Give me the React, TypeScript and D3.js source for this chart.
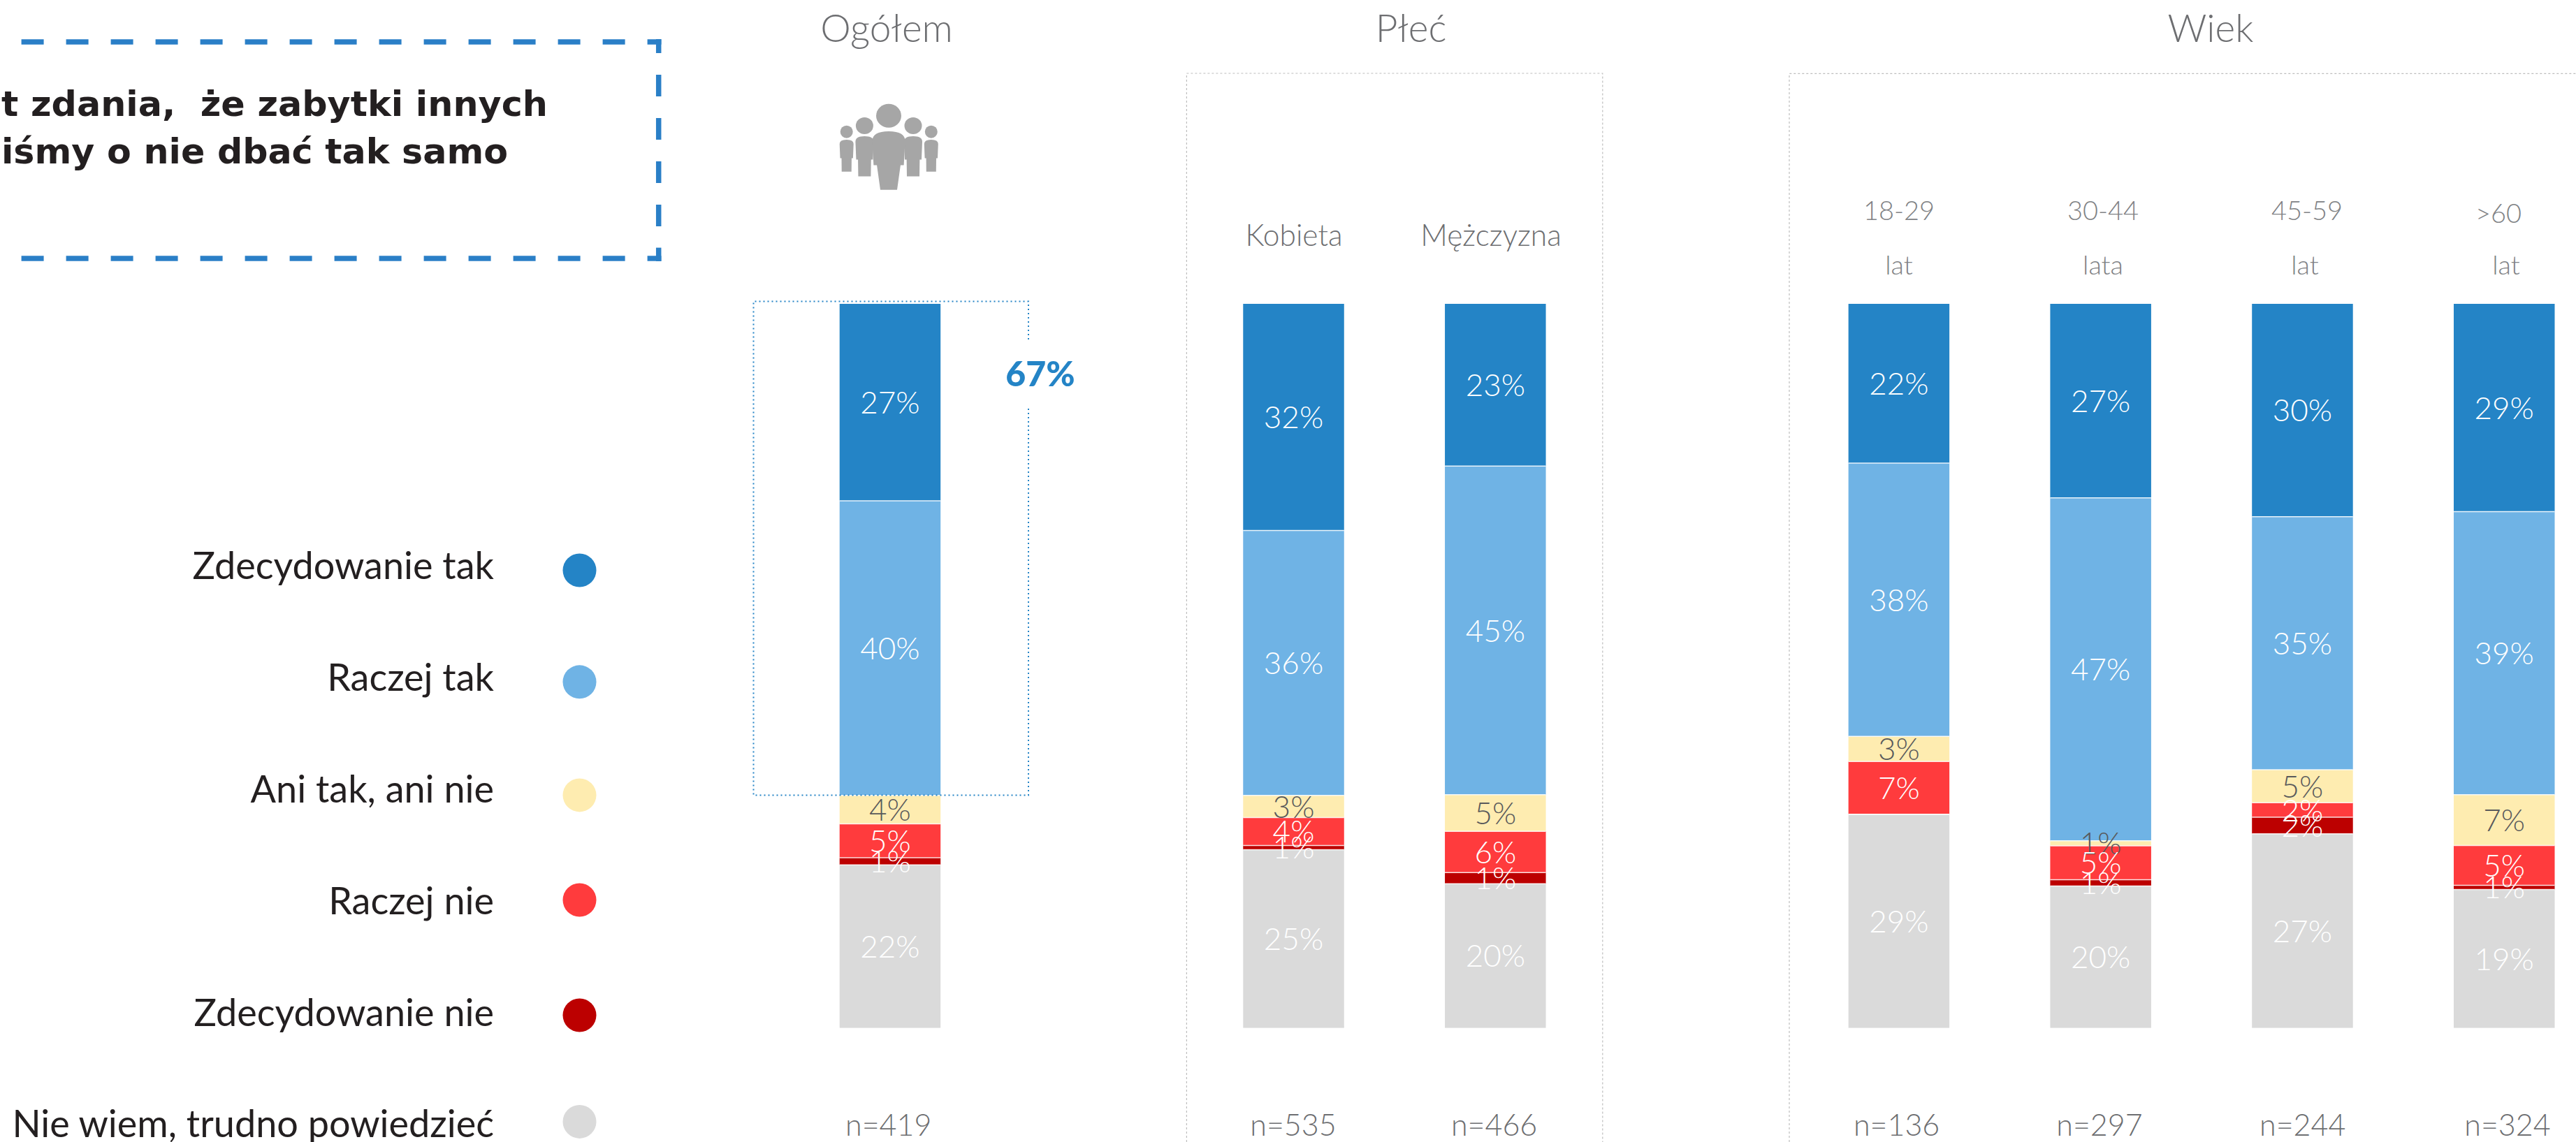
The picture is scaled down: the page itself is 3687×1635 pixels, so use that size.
import React from "react";
import * as d3 from "d3";

const answers = ["Zdecydowanie tak", "Raczej tak", "Ani tak, ani nie", "Raczej nie", "Zdecydowanie nie", "Nie wiem, trudno powiedzieć"];
const colors = ["#2484c6", "#6fb3e5", "#feecb0", "#ff3b3d", "#bc0000", "#dadada"];
const labelColors = ["#ffffff", "#ffffff", "#58595b", "#ffffff", "#ffffff", "#ffffff"];

const barNames = ["Ogółem", "Kobieta", "Mężczyzna", "18-29", "30-44", "45-59", ">60"];
const barSlots = [0, 2, 3, 5, 6, 7, 8];
const sampleSizes = ["n=419", "n=535", "n=466", "n=136", "n=297", "n=244", "n=324"];
const sampleCenters = [1271.7, 1851, 2138.6, 2714.6, 3005, 3295.7, 3589];

const zdecydowanieTak = [27.2, 31.3, 22.4, 22.0, 26.8, 29.4, 28.7];
const raczejTak = [40.7, 36.6, 45.4, 37.75, 47.35, 34.95, 39.1];
const aniTakAniNie = [3.93, 3.05, 5.05, 3.45, 0.7, 4.55, 7.0];
const raczejNie = [4.67, 3.85, 5.7, 7.3, 4.7, 2.0, 5.5];
const zdecydowanieNie = [1.0, 0.6, 1.55, 0, 0.85, 2.3, 0.6];
const nieWiem = [22.5, 24.6, 19.9, 29.5, 19.6, 26.8, 19.1];
const seriesValues = [zdecydowanieTak, raczejTak, aniTakAniNie, raczejNie, zdecydowanieNie, nieWiem];

const labelsTak = ["27%", "32%", "23%", "22%", "27%", "30%", "29%"];
const labelsRaczejTak = ["40%", "36%", "45%", "38%", "47%", "35%", "39%"];
const labelsAni = ["4%", "3%", "5%", "3%", "1%", "5%", "7%"];
const labelsRaczejNie = ["5%", "4%", "6%", "7%", "5%", "2%", "5%"];
const labelsNie = ["1%", "1%", "1%", "", "1%", "2%", "1%"];
const labelsNieWiem = ["22%", "25%", "20%", "29%", "20%", "27%", "19%"];
const seriesLabels = [labelsTak, labelsRaczejTak, labelsAni, labelsRaczejNie, labelsNie, labelsNieWiem];

const legendBaselines = [828.5, 989, 1148.7, 1308.5, 1469.4, 1628];
const legendDots = [816.5, 976.3, 1138.4, 1288.5, 1453.5, 1605.9];

const headers = [{ t: "Ogółem", x: 1269 }, { t: "Płeć", x: 2019.6 }, { t: "Wiek", x: 3164 }];
const genderLabels = [{ t: "Kobieta", x: 1852 }, { t: "Mężczyzna", x: 2134 }];
const ageLabels = [
  { t: "18-29", x: 2718, y: 315 }, { t: "30-44", x: 3010, y: 315 }, { t: "45-59", x: 3302, y: 315 }, { t: ">60", x: 3576, y: 319 },
  { t: "lat", x: 2718, y: 393 }, { t: "lata", x: 3010, y: 393 }, { t: "lat", x: 3299, y: 393 }, { t: "lat", x: 3587, y: 393 },
];

const FONT = "Lato";
const BAR_W = 144.5;

const x = d3.scaleLinear().domain([0, 8]).range([1201.7, 3512]);
const y = d3.scaleLinear().domain([0, 100]).range([435, 1471.6]);

const table = barNames.map((name, i) => {
  const row: any = { name };
  answers.forEach((a, s) => (row[a] = seriesValues[s][i]));
  return row;
});
const stacked = d3.stack().keys(answers)(table);

function Person({ cx, headY, headRx, headRy, top, bottom, w, legW }: any) {
  const p = d3.path();
  const l = cx - w / 2, r = cx + w / 2, mid = top + (bottom - top) * 0.58;
  p.moveTo(l, top + w * 0.3);
  p.quadraticCurveTo(l, top, cx, top);
  p.quadraticCurveTo(r, top, r, top + w * 0.3);
  p.lineTo(r - w * 0.04, mid);
  p.lineTo(r - w * 0.14, mid);
  p.lineTo(cx + legW / 2, bottom);
  p.lineTo(cx - legW / 2, bottom);
  p.lineTo(l + w * 0.14, mid);
  p.lineTo(l + w * 0.04, mid);
  p.closePath();
  return (
    <g fill="#a6a6a6">
      <ellipse cx={cx} cy={headY} rx={headRx} ry={headRy} />
      <path d={p.toString()} />
    </g>
  );
}

export default function App() {
  return (
    <svg width={3687} height={1635} style={{ position: "fixed", left: 0, top: 0, background: "#fff" }} fontFamily={FONT}>
      {/* Question box */}
      <g stroke="#2a7fc7" strokeWidth={7.5} fill="none">
        <line x1={30.6} x2={946.5} y1={60} y2={60} strokeDasharray="32 32" />
        <line x1={30.6} x2={946.5} y1={370} y2={370} strokeDasharray="32 32" />
        <line x1={942.7} x2={942.7} y1={56} y2={76} />
        <line x1={942.7} x2={942.7} y1={107} y2={350} strokeDasharray="31 31" />
        <line x1={942.7} x2={942.7} y1={354.6} y2={374} />
      </g>
      <g fontFamily="DejaVu Sans" fontWeight={700} fontSize={50} fill="#231f20">
        <text x={2} y={165.6} textLength={782} lengthAdjust="spacingAndGlyphs">{"t zdania,\u00A0 że zabytki innych"}</text>
        <text x={2} y={234.4} textLength={725} lengthAdjust="spacingAndGlyphs">iśmy o nie dbać tak samo</text>
      </g>

      {/* Legend */}
      {answers.map((a, i) => (
        <g key={a}>
          <text x={707} y={legendBaselines[i]} textAnchor="end" fontSize={54} fill="#231f20">{a}</text>
          <circle cx={829.5} cy={legendDots[i]} r={24} fill={colors[i]} />
        </g>
      ))}

      {/* Headers */}
      {headers.map((h) => (
        <text key={h.t} x={h.x} y={59.5} textAnchor="middle" fontSize={55} fontWeight={300} fill="#6d6e71">{h.t}</text>
      ))}
      {genderLabels.map((h) => (
        <text key={h.t} x={h.x} y={352} textAnchor="middle" fontSize={42.5} fontWeight={300} fill="#6d6e71">{h.t}</text>
      ))}
      {ageLabels.map((h, i) => (
        <text key={i} x={h.x} y={h.y} textAnchor="middle" fontSize={38} fontWeight={300} fill="#808285">{h.t}</text>
      ))}

      {/* Icon */}
      <Person cx={1211.7} headY={188.7} headRx={9} headRy={9} top={200} bottom={245.7} w={20} legW={14} />
      <Person cx={1332.8} headY={188.7} headRx={9} headRy={9} top={200} bottom={245.7} w={20} legW={14} />
      <Person cx={1237.4} headY={180} headRx={12.5} headRy={12} top={195} bottom={252.6} w={26} legW={18} />
      <Person cx={1307} headY={180} headRx={12.5} headRy={12} top={195} bottom={252.6} w={26} legW={18} />
      <Person cx={1272} headY={165.7} headRx={18} headRy={17} top={188} bottom={271.7} w={47} legW={24} />

      {/* Frames */}
      <g fill="none" stroke="#bdbdbd" strokeWidth={1.2} strokeDasharray="3 3">
        <path d="M1698.4,1635V105H2293.8V1635" />
        <path d="M2561,1635V105.3H3687" />
      </g>

      {/* Bars */}
      {stacked.map((series, s) => (
        <g key={series.key} fill={colors[s]}>
          {series.map((d, i) => (
            <rect key={i} x={x(barSlots[i])} width={BAR_W} y={y(d[0])} height={y(d[1]) - y(d[0])} />
          ))}
        </g>
      ))}
      {stacked.slice(1).map((series) => (
        <g key={series.key} stroke="#ffffff" strokeOpacity={0.85} strokeWidth={1.5}>
          {series.map((d, i) => (
            <line key={i} x1={x(barSlots[i])} x2={x(barSlots[i]) + BAR_W} y1={y(d[0])} y2={y(d[0])} />
          ))}
        </g>
      ))}

      {/* Highlight */}
      <path d="M1472,486V431.5H1078.5V1138.5H1472V581.7" fill="none" stroke="#2484c6" strokeWidth={2} strokeDasharray="2 4" />
      <text x={1489} y={553} textAnchor="middle" fontSize={50} fontWeight={900} fill="#2484c6">67%</text>

      {/* Value labels */}
      {stacked.map((series, s) => (
        <g key={series.key} fill={labelColors[s]} fontSize={44} fontWeight={300} textAnchor="middle">
          {series.map((d, i) => (
            seriesLabels[s][i] ? (
              <text key={i} x={x(barSlots[i]) + BAR_W / 2} y={(y(d[0]) + y(d[1])) / 2 + 16}>{seriesLabels[s][i]}</text>
            ) : null
          ))}
        </g>
      ))}

      {/* Sample sizes */}
      {sampleSizes.map((n, i) => (
        <text key={n} x={sampleCenters[i]} y={1626} textAnchor="middle" fontSize={43} fontWeight={300} fill="#6d6e71">{n}</text>
      ))}
    </svg>
  );
}
